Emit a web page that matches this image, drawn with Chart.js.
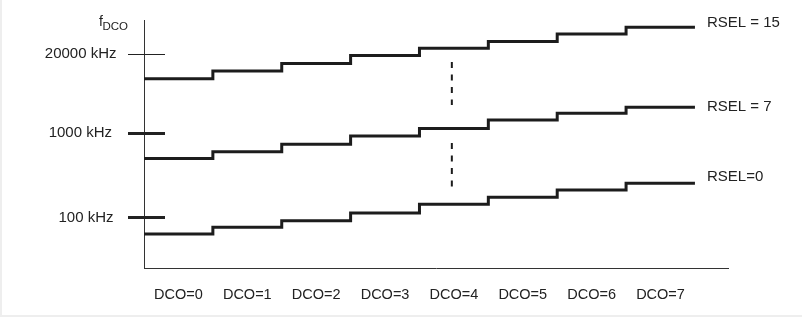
<!DOCTYPE html>
<html>
<head>
<meta charset="utf-8">
<script src="https://cdn.jsdelivr.net/npm/chart.js@4"></script>
<style>
  html, body { margin: 0; padding: 0; background: #eeeeee; }
  #wrap { position: absolute; left: 2px; top: 0; width: 800px; height: 315px; background: #ffffff; }
</style>
</head>
<body>
<div id="wrap"><canvas id="c"></canvas></div>
<script>
// ---- data ----
const categories = ["DCO=0", "DCO=1", "DCO=2", "DCO=3", "DCO=4", "DCO=5", "DCO=6", "DCO=7"];
const seriesNames = ["RSEL = 15", "RSEL = 7", "RSEL=0"];
// relative (schematic) frequency level per DCO step
const rsel15 = [76.3, 79.4, 82.5, 85.7, 88.6, 91.3, 94.4, 97.1];
const rsel7  = [44.2, 46.9, 49.9, 53.2, 56.3, 59.7, 62.4, 64.8];
const rsel0  = [13.7, 16.4, 19.1, 22.2, 25.7, 28.5, 31.5, 34.2];
const yTickValues = [20.4, 54.6, 86.2];
const yTickLabels = ["100 kHz", "1000 kHz", "20000 kHz"];
const dashX = 4.47;
const dashSegments = [[83.1, 65.7], [50.4, 32.7]];

const FONT = "'Liberation Sans', Arial, sans-serif";
const INK = '#222222';

function stepData(vals) {
  const pts = vals.map((v, i) => ({ x: i, y: v }));
  pts.push({ x: vals.length, y: vals[vals.length - 1] });
  return pts;
}
const dashData = [];
dashSegments.forEach((s, i) => {
  if (i > 0) dashData.push({ x: dashX, y: null });
  dashData.push({ x: dashX, y: s[0] }, { x: dashX, y: s[1] });
});

const lineStyle = { borderColor: '#1c1c1c', borderWidth: 3, pointRadius: 0, stepped: 'before', fill: false, borderCapStyle: 'butt', borderJoinStyle: 'miter' };

function zeroPad(scale) {
  scale.paddingTop = 0; scale.paddingBottom = 0;
  scale.paddingLeft = 0; scale.paddingRight = 0;
}

const decor = {
  id: 'decor',
  afterDraw(chart, args, opts) {
    const ctx = chart.ctx;
    const ys = chart.scales.y;
    const area = chart.chartArea;
    ctx.save();
    // y tick marks crossing the axis, with their labels
    yTickValues.forEach((v, i) => {
      const w = opts.tickWidths[i];
      const yp = ys.getPixelForValue(v);
      const py = Math.round(yp) + (w % 2 ? 0.5 : 0);
      ctx.beginPath();
      ctx.strokeStyle = '#222';
      ctx.lineWidth = w;
      ctx.moveTo(area.left - 16, py);
      ctx.lineTo(area.left + 21, py);
      ctx.stroke();
      ctx.fillStyle = INK;
      ctx.font = '15px ' + FONT;
      ctx.textAlign = 'right';
      ctx.textBaseline = 'middle';
      ctx.fillText(yTickLabels[i], area.left - opts.labelGap[i], yp);
    });
    // series end labels
    ctx.fillStyle = INK;
    ctx.font = '15px ' + FONT;
    ctx.textBaseline = 'middle';
    ctx.textAlign = 'left';
    [0, 1, 2].forEach((di) => {
      const meta = chart.getDatasetMeta(di);
      const last = meta.data[meta.data.length - 1];
      ctx.fillText(seriesNames[di], last.x + 12, last.y + opts.labelDy[di]);
    });
    // axis title f_DCO
    ctx.textBaseline = 'alphabetic';
    ctx.font = '14px ' + FONT;
    ctx.fillText('f', area.left - 45, 26);
    ctx.font = '11.5px ' + FONT;
    ctx.fillText('DCO', area.left - 41.5, 30);
    ctx.restore();
  }
};

new Chart(document.getElementById('c'), {
  type: 'line',
  data: {
    datasets: [
      Object.assign({ label: seriesNames[0], data: stepData(rsel15) }, lineStyle),
      Object.assign({ label: seriesNames[1], data: stepData(rsel7) }, lineStyle),
      Object.assign({ label: seriesNames[2], data: stepData(rsel0) }, lineStyle),
      { label: 'marker', data: dashData, borderColor: '#1c1c1c', borderWidth: 2, borderDash: [6, 6.5], pointRadius: 0, spanGaps: false, fill: false, stepped: false }
    ]
  },
  options: {
    responsive: true,
    maintainAspectRatio: false,
    animation: false,
    events: [],
    layout: { padding: { left: 0, right: 74, top: 20, bottom: 0 } },
    plugins: {
      legend: { display: false },
      tooltip: { enabled: false },
      decor: { tickWidths: [3, 3, 1], labelGap: [30.5, 32, 27.5], labelDy: [-4, -0.6, -6] }
    },
    scales: {
      x: {
        type: 'linear', min: 0, max: 8.48,
        grid: { display: false, drawTicks: false },
        border: { display: true, color: '#333', width: 1 },
        afterBuildTicks(scale) { scale.ticks = categories.map((c, i) => ({ value: i + 0.5 })); },
        afterFit(scale) { scale.height = 47; zeroPad(scale); },
        ticks: {
          autoSkip: false, maxRotation: 0, padding: 18, color: INK,
          font: { family: FONT, size: 14.5 },
          callback(v, i) { return categories[i]; }
        }
      },
      y: {
        type: 'linear', min: 0, max: 100,
        grid: { display: false, drawTicks: false },
        border: { display: true, color: '#333', width: 1 },
        afterBuildTicks(scale) { scale.ticks = yTickValues.map(v => ({ value: v })); },
        afterFit(scale) { scale.width = 142; zeroPad(scale); },
        ticks: { display: false }
      }
    }
  },
  plugins: [decor]
});
</script>
</body>
</html>
